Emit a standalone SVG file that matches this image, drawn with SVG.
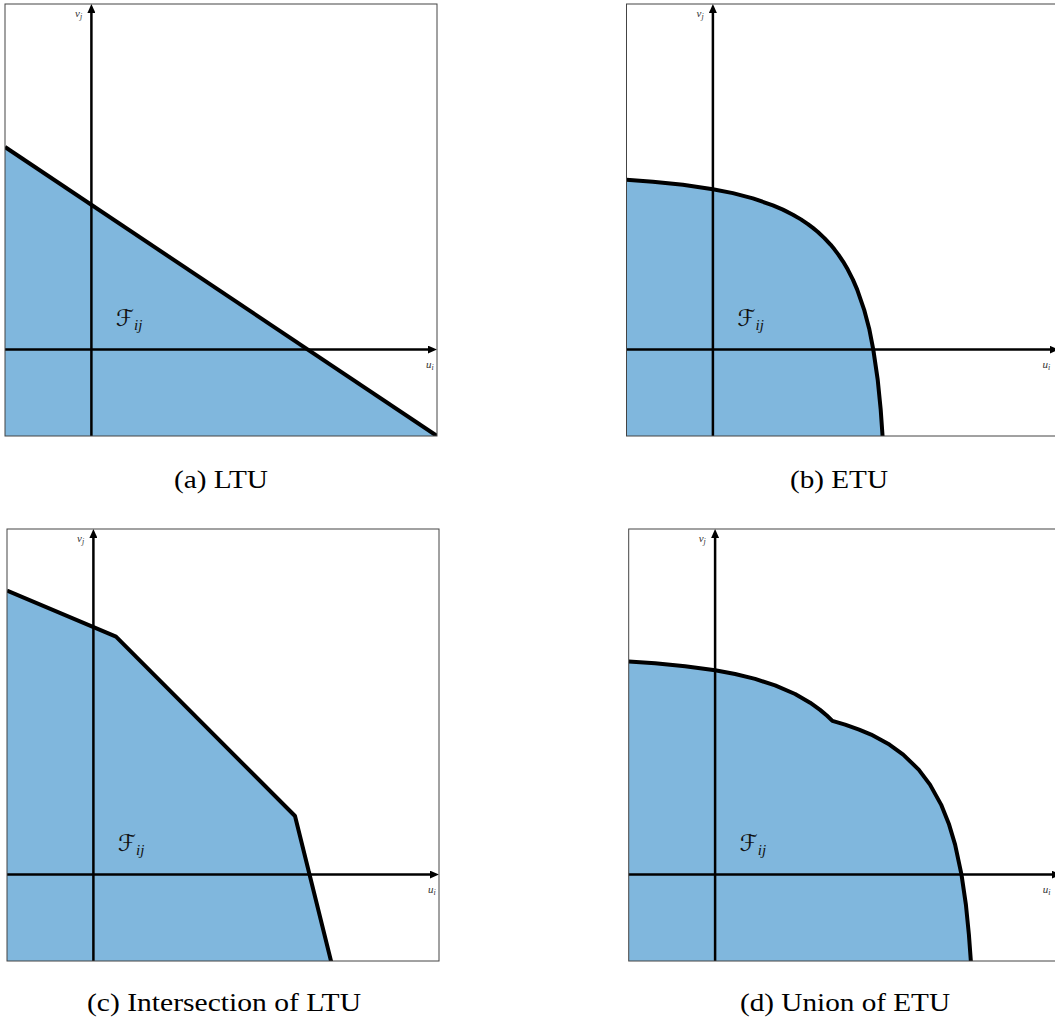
<svg xmlns="http://www.w3.org/2000/svg" width="1055" height="1019" viewBox="0 0 1055 1019">
<defs>
<clipPath id="frame" clipPathUnits="userSpaceOnUse"><rect x="0" y="0" width="432" height="432"/></clipPath>
<marker id="arr" viewBox="0 0 9 8" refX="5" refY="4" markerWidth="9" markerHeight="8" markerUnits="userSpaceOnUse" orient="auto"><path d="M0,0 L9,4 L0,8 z" fill="#000"/></marker>
</defs>
<style>
.region{fill:#80b7dd;stroke:none}
.bound{fill:none;stroke:#000;stroke-width:4;stroke-linejoin:round}
.axis{stroke:#000;stroke-width:2.5;fill:none;marker-end:url(#arr)}
.frame{fill:none;stroke:#444;stroke-width:1}
.lab{font-family:"Liberation Serif",serif;font-style:italic;font-size:11px;fill:#333}
.sub{font-size:8px}
.F{font-family:"DejaVu Sans",sans-serif;font-size:23px;fill:#111}
.Fsub{font-family:"Liberation Serif",serif;font-style:italic;font-size:15px}
.cap{font-family:"Liberation Serif",serif;font-size:26px;fill:#000;text-anchor:middle}
</style>

<g id="panel-a" transform="translate(5,4)">
  <polygon class="region" clip-path="url(#frame)" points="0,143 432,432 0,432"/>
  <line class="axis" x1="86.4" y1="432" x2="86.4" y2="4"/>
  <line class="axis" x1="0" y1="345.6" x2="428" y2="345.6"/>
  <polyline class="bound" clip-path="url(#frame)" points="0,143 432,432"/>
  <rect class="frame" x="0" y="0" width="432" height="432"/>
  <text class="lab" x="70" y="13">v<tspan class="sub" dy="2">j</tspan></text>
  <text class="lab" x="421" y="364">u<tspan class="sub" dy="2">i</tspan></text>
  <text class="F" x="111" y="322">ℱ<tspan class="Fsub" dy="4">ij</tspan></text>
</g>

<g id="panel-b" transform="translate(626.5,4)">
  <polygon class="region" clip-path="url(#frame)" points="0,175.8 26.4,177.8 56.4,180.8 86.4,185.2 106.4,189.1 126.4,194.4 146.4,201.3 156.4,205.6 166.4,210.7 174.4,215.4 181.4,220.1 186.4,223.9 191.4,228 197.9,234.1 204,240.6 208.1,245.6 211.9,250.6 216.6,257.6 221.3,265.6 226.4,275.6 230.7,285.6 237.6,305.6 242.9,325.6 246.8,345.6 251.2,375.6 254.2,405.6 256.2,432.6 0,432.6"/>
  <line class="axis" x1="86.4" y1="432" x2="86.4" y2="4"/>
  <line class="axis" x1="0" y1="345.6" x2="428" y2="345.6"/>
  <polyline class="bound" clip-path="url(#frame)" points="0,175.8 26.4,177.8 56.4,180.8 86.4,185.2 106.4,189.1 126.4,194.4 146.4,201.3 156.4,205.6 166.4,210.7 174.4,215.4 181.4,220.1 186.4,223.9 191.4,228 197.9,234.1 204,240.6 208.1,245.6 211.9,250.6 216.6,257.6 221.3,265.6 226.4,275.6 230.7,285.6 237.6,305.6 242.9,325.6 246.8,345.6 251.2,375.6 254.2,405.6 256.2,434"/>
  <rect class="frame" x="0" y="0" width="432" height="432"/>
  <text class="lab" x="70" y="13">v<tspan class="sub" dy="2">j</tspan></text>
  <text class="lab" x="416" y="364">u<tspan class="sub" dy="2">i</tspan></text>
  <text class="F" x="111" y="322">ℱ<tspan class="Fsub" dy="4">ij</tspan></text>
</g>

<g id="panel-c" transform="translate(7,529)">
  <polygon class="region" clip-path="url(#frame)" points="0,61.7 109,107.7 288,287 324,432 0,432"/>
  <line class="axis" x1="86.4" y1="432" x2="86.4" y2="4"/>
  <line class="axis" x1="0" y1="345.6" x2="428" y2="345.6"/>
  <polyline class="bound" clip-path="url(#frame)" points="0,61.7 109,107.7 288,287 324.5,434"/>
  <rect class="frame" x="0" y="0" width="432" height="432"/>
  <text class="lab" x="70" y="13">v<tspan class="sub" dy="2">j</tspan></text>
  <text class="lab" x="421" y="364">u<tspan class="sub" dy="2">i</tspan></text>
  <text class="F" x="111" y="322">ℱ<tspan class="Fsub" dy="4">ij</tspan></text>
</g>

<g id="panel-d" transform="translate(628.7,529)">
  <polygon class="region" clip-path="url(#frame)" points="0,132.5 26.4,134.3 56.4,137.2 86.4,141.3 106.4,145 126.4,149.9 146.4,156.4 166.4,165 181.4,173.7 191.4,180.9 198.4,186.8 203.7,191.9 216.4,195.6 230.4,200.6 242.4,205.6 260.7,215.6 274.5,225.6 290,240.6 301.3,255.6 312.4,275.6 320.4,295.6 326.4,315.6 332.8,345.6 337.2,375.6 340.2,405.6 342.2,432.6 0,432.6"/>
  <line class="axis" x1="86.4" y1="432" x2="86.4" y2="4"/>
  <line class="axis" x1="0" y1="345.6" x2="428" y2="345.6"/>
  <polyline class="bound" clip-path="url(#frame)" points="0,132.5 26.4,134.3 56.4,137.2 86.4,141.3 106.4,145 126.4,149.9 146.4,156.4 166.4,165 181.4,173.7 191.4,180.9 198.4,186.8 203.7,191.9 216.4,195.6 230.4,200.6 242.4,205.6 260.7,215.6 274.5,225.6 290,240.6 301.3,255.6 312.4,275.6 320.4,295.6 326.4,315.6 332.8,345.6 337.2,375.6 340.2,405.6 342.3,434"/>
  <rect class="frame" x="0" y="0" width="432" height="432"/>
  <text class="lab" x="70" y="13">v<tspan class="sub" dy="2">j</tspan></text>
  <text class="lab" x="414" y="364">u<tspan class="sub" dy="2">i</tspan></text>
  <text class="F" x="111" y="322">ℱ<tspan class="Fsub" dy="4">ij</tspan></text>
</g>

<g id="captions">
  <text class="cap" x="221" y="488" textLength="94" lengthAdjust="spacingAndGlyphs">(a) LTU</text>
  <text class="cap" x="839" y="488" textLength="98" lengthAdjust="spacingAndGlyphs">(b) ETU</text>
  <text class="cap" x="224" y="1011" textLength="274" lengthAdjust="spacingAndGlyphs">(c) Intersection of LTU</text>
  <text class="cap" x="845" y="1011" textLength="210" lengthAdjust="spacingAndGlyphs">(d) Union of ETU</text>
</g>
</svg>
